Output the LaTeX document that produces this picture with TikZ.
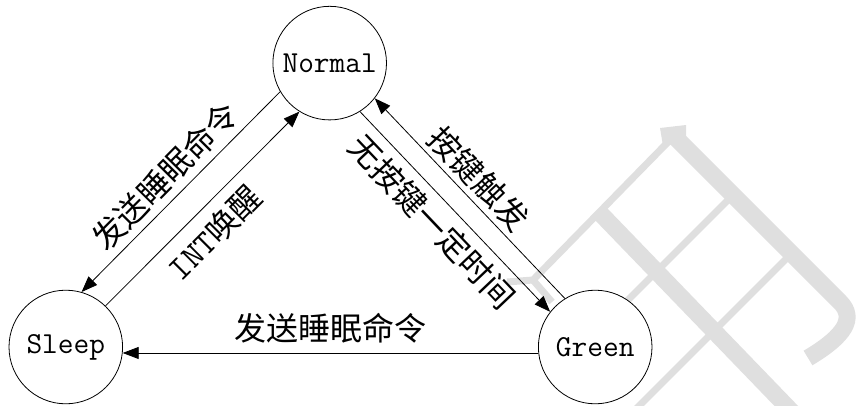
\documentclass[tikz,border=0pt]{standalone}
\usepackage{fontspec}
\newfontfamily\cjk{Noto Sans CJK SC}
\usetikzlibrary{positioning,arrows.meta}

\tikzset{
  state/.style={draw, circle, fill=white, minimum size=113.6pt, inner sep=0pt, font=\ttfamily\fontsize{30.5}{30.5}\selectfont},
  lbl/.style={sloped, inner sep=0pt, font=\cjk\fontsize{32}{32}\selectfont},
  wmthin/.style={draw=gray!25, line width=7pt},
  wmthick/.style={draw=gray!25, line width=17pt}
}

\begin{document}
\begin{tikzpicture}[x=1pt, y=1pt, line width=0.8pt, >={Triangle[length=16pt, width=12pt]}]
  \useasboundingbox (0,0) rectangle (857,-405);
  \begin{scope}
    \clip (0,0) rectangle (857,-405);
    \fill[gray!25] (660,-128) -- (686,-125) -- (686,-142) -- (663,-146) -- cycle;
    \draw[wmthick] (675,-137) -- (840,-302) .. controls (856,-318) and (845,-336) .. (808,-358);
    \draw[wmthick] (600,-213) -- (795,-415);
    \draw[wmthin] (669,-141) -- (533,-280) -- (507,-282);
    \draw[wmthin] (533,-280) -- (552,-302);
    \draw[wmthin] (733,-195) -- (590,-338);
    \draw[wmthin] (795,-250) -- (632,-413);
  \end{scope}
  \node[state] (sleep) at (65.8,-347) {Sleep};
  \node[state, right=415pt of sleep] (green) {Green};
  \node[state, above right=203pt and 183pt of sleep] (normal) {Normal};
  \draw[->] (normal.210) -- node[lbl, above=7pt] {发送睡眠命令} (sleep.74);
  \draw[->] (sleep.46) -- node[lbl, below=10pt, pos=0.47] {{\ttfamily\fontsize{34}{34}\selectfont INT}唤醒} (normal.238);
  \draw[->] (normal.302) -- node[lbl, below=8pt, pos=0.47] {无按键一定时间} (green.142);
  \draw[->] (green.122) -- node[lbl, above=5pt, pos=0.53] {按键触发} (normal.322);
  \draw[->] (green.186) -- node[lbl, above=9pt] {发送睡眠命令} (sleep.354);
\end{tikzpicture}
\end{document}
